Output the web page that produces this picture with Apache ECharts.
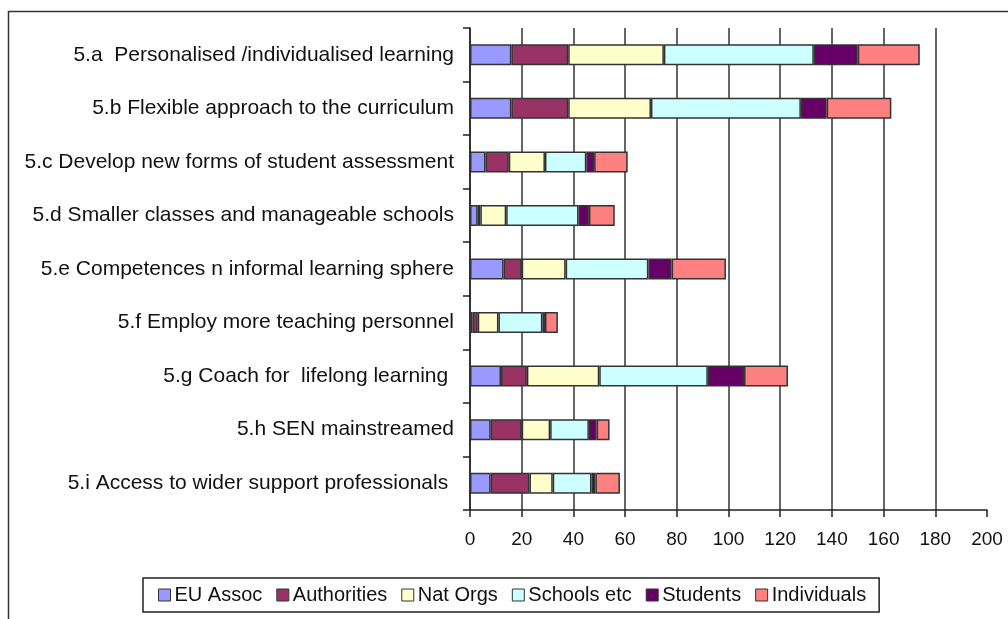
<!DOCTYPE html>
<html>
<head>
<meta charset="utf-8">
<title>Stacked bars</title>
<script src="https://cdn.jsdelivr.net/npm/echarts@6/dist/echarts.min.js"></script>
<style>
  html, body { margin: 0; padding: 0; background: #fff; }
  #chart { width: 1008px; height: 619px; }
</style>
</head>
<body>
<div id="chart"></div>
<script>
// categories, top to bottom
const categories = [
  "5.a  Personalised /individualised learning",
  "5.b Flexible approach to the curriculum",
  "5.c Develop new forms of student assessment",
  "5.d Smaller classes and manageable schools",
  "5.e Competences n informal learning sphere",
  "5.f Employ more teaching personnel",
  "5.g Coach for  lifelong learning ",
  "5.h SEN mainstreamed",
  "5.i Access to wider support professionals "
];

// values
const euAssoc     = [16, 16,  6, 3, 13,  1, 12,  8,  8];
const authorities = [22, 22,  9, 1,  7,  2, 10, 12, 15];
const natOrgs     = [37, 32, 14, 10, 17, 8, 28, 11,  9];
const schools     = [58, 58, 16, 28, 32, 17, 42, 15, 15];
const students    = [17, 10,  3, 4,  9,  1, 14,  3, 1.5];
const individuals = [24, 25, 13, 10, 21, 5, 17,  5, 9.5];

const xTicks = [0, 20, 40, 60, 80, 100, 120, 140, 160, 180, 200];

const seriesDefs = [
  { name: "EU Assoc", data: euAssoc, color: "#9999ff" },
  { name: "Authorities", data: authorities, color: "#993366" },
  { name: "Nat Orgs", data: natOrgs, color: "#ffffcc" },
  { name: "Schools etc", data: schools, color: "#ccffff" },
  { name: "Students", data: students, color: "#660066" },
  { name: "Individuals", data: individuals, color: "#ff8080" }
];

const chart = echarts.init(document.getElementById("chart"));
const font = "'Liberation Sans', Arial, sans-serif";

chart.setOption({
  animation: false,
  textStyle: { fontFamily: font },
  graphic: [
    {
      type: "rect",
      left: 6,
      top: 9,
      shape: { width: 1100, height: 700 },
      style: { fill: "none", stroke: "#333", lineWidth: 1.5 },
      silent: true
    }
  ],
  grid: { left: 470, right: 21, top: 28, bottom: 109 },
  legend: {
    bottom: 7,
    left: 143,
    icon: "rect",
    itemWidth: 12,
    itemHeight: 12,
    itemGap: 14,
    padding: [7, 13, 7, 15],
    borderColor: "#222",
    borderWidth: 1.5,
    textStyle: { fontSize: 20, color: "#111", fontFamily: font, padding: [0, 0, 0, -1] },
    itemStyle: { borderColor: "#333", borderWidth: 1 },
    data: seriesDefs.map(s => s.name)
  },
  xAxis: {
    type: "value",
    min: 0,
    max: 200,
    interval: 20,
    axisLine: { show: true, lineStyle: { color: "#222", width: 1.5 } },
    axisTick: { show: true, length: 7, lineStyle: { color: "#222", width: 1.5 } },
    axisLabel: {
      fontSize: 19,
      color: "#111",
      margin: 20,
      formatter: v => (xTicks.indexOf(v) >= 0 ? String(v) : "")
    },
    splitLine: {
      show: true,
      showMaxLine: false,
      lineStyle: { color: "#333", width: 1.5 }
    }
  },
  yAxis: {
    type: "category",
    inverse: true,
    data: categories,
    axisLine: { show: true, lineStyle: { color: "#222", width: 1.5 } },
    axisTick: { show: true, length: 7, lineStyle: { color: "#222", width: 1.5 } },
    axisLabel: { fontSize: 21, color: "#111", margin: 16 },
    splitLine: { show: false }
  },
  series: seriesDefs.map(s => ({
    name: s.name,
    type: "bar",
    stack: "total",
    barWidth: 21,
    data: s.data,
    itemStyle: { color: s.color, borderColor: "#333", borderWidth: 1.5 }
  }))
});
</script>
</body>
</html>
